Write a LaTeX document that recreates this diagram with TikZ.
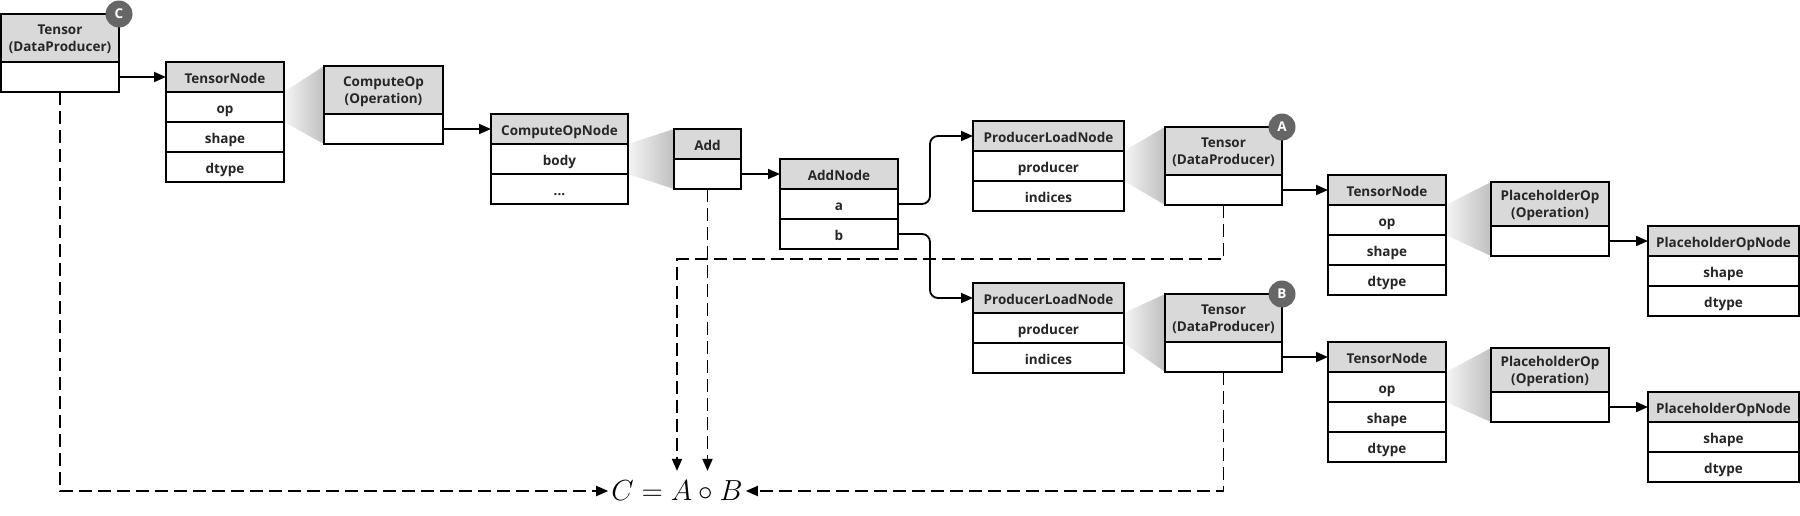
\documentclass[tikz,border=0pt]{standalone}
\usepackage{fontspec}
\usepackage{amsmath}
\usepackage{graphicx}
\setmainfont{Open Sans}
\usetikzlibrary{positioning, arrows.meta, backgrounds}
\newcommand{\boxfont}{\bfseries\fontsize{13.5}{17.5}\selectfont}

\tikzset{
  cell/.style={draw, line width=1.8pt, inner sep=0pt, outer sep=0pt, font=\boxfont, text=black!85},
  hdr/.style={cell, fill=gray!30, minimum height=30, text height=12pt, text depth=0pt},
  hdrtwo/.style={cell, fill=gray!30, minimum height=48, align=center, text depth=0pt},
  fld/.style={cell, fill=white, minimum height=30, text height=12pt, text depth=0pt},
  arr/.style={line width=1.8pt, -{Triangle[length=12pt, width=10pt]}},
  dsh/.style={arr, dash pattern=on 13pt off 6pt},
  badge/.style={circle, fill=black!60, text=white, minimum size=27, inner sep=0pt, font=\bfseries\fontsize{13.5}{13.5}\selectfont},
  funnel/.style={left color=gray!8, right color=gray!50}
}

\begin{document}
\begin{tikzpicture}[x=1pt, y=-1pt]
            \useasboundingbox (0,0) rectangle (1800,515);

            %Tensor C and its node
            \node[hdrtwo, minimum width=118, anchor=north west] at (1,14) (tch) {Tensor\\(DataProducer)};
            \node[fld, minimum width=118, below=0pt of tch] (tcb) {};
            \node[hdr, minimum width=118, anchor=north west] at (166,62) (tnah) {TensorNode};
            \node[fld, minimum width=118, below=0pt of tnah] (tnaop) {op};
            \node[fld, minimum width=118, below=0pt of tnaop] (tnashape) {shape};
            \node[fld, minimum width=118, below=0pt of tnashape] (tnadtype) {dtype};

            %ComputeOp
            \node[hdrtwo, minimum width=119, anchor=north west] at (324,66) (coph) {ComputeOp\\(Operation)};
            \node[fld, minimum width=119, below=0pt of coph] (copb) {};
            \node[hdr, minimum width=137, anchor=north west] at (491,114) (copnh) {ComputeOpNode};
            \node[fld, minimum width=137, below=0pt of copnh] (copnbody) {body};
            \node[fld, minimum width=137, below=0pt of copnbody] (copnrest) {...};

            %Add
            \node[hdr, minimum width=67, anchor=north west] at (674,129) (addh) {Add};
            \node[fld, minimum width=67, below=0pt of addh] (addb) {};
            \node[hdr, minimum width=118, anchor=north west] at (780,159) (adnh) {AddNode};
            \node[fld, minimum width=118, below=0pt of adnh] (adna) {a};
            \node[fld, minimum width=118, below=0pt of adna] (adnb) {b};

            %Operand A
            \node[hdr, minimum width=151, anchor=north west] at (973,121) (plnah) {ProducerLoadNode};
            \node[fld, minimum width=151, below=0pt of plnah] (plnaprod) {producer};
            \node[fld, minimum width=151, below=0pt of plnaprod] (plnaidx) {indices};
            \node[hdrtwo, minimum width=117, anchor=north west] at (1165,127) (tah) {Tensor\\(DataProducer)};
            \node[fld, minimum width=117, below=0pt of tah] (tab) {};
            \node[hdr, minimum width=118, anchor=north west] at (1328,175) (tnbh) {TensorNode};
            \node[fld, minimum width=118, below=0pt of tnbh] (tnbop) {op};
            \node[fld, minimum width=118, below=0pt of tnbop] (tnbshape) {shape};
            \node[fld, minimum width=118, below=0pt of tnbshape] (tnbdtype) {dtype};
            \node[hdrtwo, minimum width=118, minimum height=44, anchor=north west] at (1491,182) (phah) {PlaceholderOp\\(Operation)};
            \node[fld, minimum width=118, below=0pt of phah] (phab) {};
            \node[hdr, minimum width=151, anchor=north west] at (1648,226) (phnah) {PlaceholderOpNode};
            \node[fld, minimum width=151, below=0pt of phnah] (phnashape) {shape};
            \node[fld, minimum width=151, below=0pt of phnashape] (phnadtype) {dtype};

            %Operand B
            \node[hdr, minimum width=151, anchor=north west] at (973,283) (plnbh) {ProducerLoadNode};
            \node[fld, minimum width=151, below=0pt of plnbh] (plnbprod) {producer};
            \node[fld, minimum width=151, below=0pt of plnbprod] (plnbidx) {indices};
            \node[hdrtwo, minimum width=117, anchor=north west] at (1165,294) (tbh) {Tensor\\(DataProducer)};
            \node[fld, minimum width=117, below=0pt of tbh] (tbb) {};
            \node[hdr, minimum width=118, anchor=north west] at (1328,342) (tnch) {TensorNode};
            \node[fld, minimum width=118, below=0pt of tnch] (tncop) {op};
            \node[fld, minimum width=118, below=0pt of tncop] (tncshape) {shape};
            \node[fld, minimum width=118, below=0pt of tncshape] (tncdtype) {dtype};
            \node[hdrtwo, minimum width=118, minimum height=44, anchor=north west] at (1491,348) (phbh) {PlaceholderOp\\(Operation)};
            \node[fld, minimum width=118, below=0pt of phbh] (phbb) {};
            \node[hdr, minimum width=151, anchor=north west] at (1648,392) (phnbh) {PlaceholderOpNode};
            \node[fld, minimum width=151, below=0pt of phnbh] (phnbshape) {shape};
            \node[fld, minimum width=151, below=0pt of phnbshape] (phnbdtype) {dtype};

            %Badges
            \node[badge] at (tch.north east) (bc) {C};
            \node[badge] at (tah.north east) (ba) {A};
            \node[badge] at (tbh.north east) (bb) {B};

            %Formula
            \node[inner xsep=3pt, inner ysep=10pt, font=\Huge] at (677,491) (eq) {\scalebox{1.166}{$C = A \circ B$}};

            %Funnels
            \begin{scope}[on background layer]
                \shade[funnel] (tnaop.north east) -- (coph.north west) -- (copb.south west) -- (tnaop.south east) -- cycle;
                \shade[funnel] (copnbody.north east) -- (addh.north west) -- (addb.south west) -- (copnbody.south east) -- cycle;
                \shade[funnel] (plnaprod.north east) -- (tah.north west) -- (tab.south west) -- (plnaprod.south east) -- cycle;
                \shade[funnel] (plnbprod.north east) -- (tbh.north west) -- (tbb.south west) -- (plnbprod.south east) -- cycle;
                \shade[funnel] (tnbop.north east) -- (phah.north west) -- (phab.south west) -- (tnbop.south east) -- cycle;
                \shade[funnel] (tncop.north east) -- (phbh.north west) -- (phbb.south west) -- (tncop.south east) -- cycle;
            \end{scope}

            %Lines
            \draw[arr] (tcb.east) -- (tnah.west);
            \draw[arr] (copb.east) -- (copnh.west);
            \draw[arr] (addb.east) -- (adnh.west);
            \draw[arr, rounded corners=8pt] (adna.east) -- ++(32,0) |- (plnah.west);
            \draw[arr, rounded corners=8pt] (adnb.east) -- ++(32,0) |- (plnbh.west);
            \draw[arr] (tab.east) -- (tnbh.west);
            \draw[arr] (tbb.east) -- (tnch.west);
            \draw[arr] (phab.east) -- (phnah.west);
            \draw[arr] (phbb.east) -- (phnbh.west);

            %Dashed lines
            \draw[dsh] (tcb.south) |- (eq.west);
            \draw[dsh] (tab.south) -- ++(0,54) -| (eq.north);
            \draw[dsh] (addb.south) -- (addb.south |- eq.north);
            \draw[dsh] (tbb.south) |- (eq.east);
        \end{tikzpicture}
\end{document}
